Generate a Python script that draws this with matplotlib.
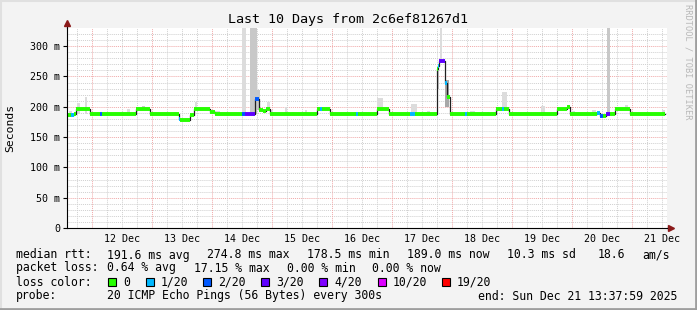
import numpy as np
import matplotlib.pyplot as plt
from matplotlib.patches import Rectangle
from matplotlib.lines import Line2D

# time in hours after Dec 11 00:00, rtt in ms
seg_start = [14.20, 15.80, 17.00, 17.92, 23.28, 27.40, 28.08, 41.92, 47.28, 58.88,
             59.40, 63.52, 65.12, 71.52, 73.40, 84.08, 85.40, 89.40, 91.12, 92.60,
             93.80, 95.40, 114.08, 115.40, 116.20, 119.40, 129.68, 130.48, 138.08, 143.12,
             151.40, 153.40, 162.08, 162.60, 163.12, 165.40, 166.08, 167.28, 173.40, 174.20,
             185.80, 188.08, 189.00, 191.12, 210.08, 214.08, 215.40, 226.08, 227.40, 228.60,
             229.80, 231.40, 233.40, 239.40]
seg_value = [187, 186, 188, 196, 188, 188, 188, 197, 188, 180,
             178.5, 187, 197, 191, 188, 188, 188, 213, 195, 193,
             196, 188, 196, 196, 196, 188, 188, 188, 196, 188,
             188, 188, 262, 267, 274.8, 240, 216, 188, 188, 188,
             196, 196, 196, 188, 196, 199.5, 188, 189, 185, 185,
             188, 188, 196, 188]
seg_loss = [0, 1, 0, 0, 0, 2, 0, 0, 0, 1,
            0, 0, 0, 0, 0, 2, 3, 2, 0, 0,
            0, 0, 0, 1, 0, 0, 1, 0, 0, 0,
            1, 0, 0, 1, 3, 1, 0, 0, 1, 0,
            0, 1, 0, 0, 0, 0, 0, 1, 2, 0,
            3, 0, 0, 0]
t_last = 253.40

# smoke: spread of the 20 pings
smoke_t0 = [15.17, 18.17, 21.27, 26.17, 38.17, 44.17, 56.97, 65.52, 73.37, 84.07,
            87.37, 90.07, 94.07, 95.37, 101.37, 104.07, 109.37, 138.07, 151.67, 158.17,
            163.37, 165.37, 162.07, 175.37, 182.07, 188.07, 203.77, 216.07, 224.07, 230.07,
            237.37, 252.07]
smoke_t1 = [16.17, 19.37, 22.17, 27.37, 39.37, 45.37, 58.17, 66.37, 75.37, 85.77,
            90.07, 91.37, 95.37, 96.57, 102.17, 104.97, 110.17, 140.57, 154.07, 159.37,
            164.27, 166.97, 162.97, 177.37, 182.97, 190.17, 205.37, 217.37, 225.77, 231.37,
            238.57, 253.37]
smoke_lo = [188, 188, 188, 188, 188, 197, 188, 197, 188, 188,
            188, 195, 196, 188, 188, 188, 188, 196, 188, 188,
            274, 200, 230, 188, 188, 196, 188, 188, 188, 188,
            196, 188]
smoke_hi = [193, 206, 216, 191, 196, 202, 191, 208, 193, 330,
            330, 227, 208, 194, 199, 192, 195, 214, 204, 193,
            330, 245, 262, 193, 191, 225, 201, 193, 194, 330,
            203, 194]
smoke_density = [1, 1, 1, 1, 1, 2, 1, 1, 1, 1,
                 2, 2, 1, 1, 1, 1, 1, 1, 1, 1,
                 1, 3, 2, 1, 1, 1, 1, 1, 1, 2,
                 1, 1]

day_labels = ['12 Dec', '13 Dec', '14 Dec', '15 Dec', '16 Dec',
              '17 Dec', '18 Dec', '19 Dec', '20 Dec', '21 Dec']

loss_names = ['0', '1/20', '2/20', '3/20', '4/20', '10/20', '19/20']
loss_colors = ['#26ff00', '#00b8ff', '#0059ff', '#5e00ff', '#7e00ff', '#dd00ff', '#ff0000']

W, H = 697, 310
mono = 'DejaVu Sans Mono'
plt.rcParams['font.family'] = mono

fig = plt.figure(figsize=(W / 100, H / 100), dpi=100, facecolor='#f3f3f3')
ax = fig.add_axes([67 / W, (H - 228) / H, 600 / W, 200 / H])
ax.set_facecolor('#ffffff')
ax.set_xlim(14.2, 254.2)
ax.set_ylim(0, 330)

# grid
for v in range(10, 330, 10):
    major = v % 50 == 0
    ax.axhline(v, color='#f0a8a8' if major else '#d0d0d0', lw=0.7,
               ls=(0, (1, 1)), zorder=1)
for h in range(18, 254, 6):
    major = h % 24 == 0
    ax.axvline(h, color='#f0a8a8' if major else '#d0d0d0', lw=0.7,
               ls=(0, (1, 1)), zorder=1)

# smoke
shades = {1: '#dcdcdc', 2: '#c8c8c8', 3: '#a8a8a8'}
t0 = np.array(smoke_t0)
t1 = np.array(smoke_t1)
lo = np.array(smoke_lo)
hi = np.array(smoke_hi)
ax.bar(t0, hi - lo, width=t1 - t0, bottom=lo, align='edge',
       color=[shades[d] for d in smoke_density], lw=0, zorder=2)

# median line
xs = seg_start + [t_last]
ys = seg_value + [seg_value[-1]]
ax.step(xs, ys, where='post', color='#202020', lw=0.9, zorder=3)
seg_end = seg_start[1:] + [t_last]
ax.hlines(seg_value, seg_start, seg_end,
          colors=[loss_colors[k] for k in seg_loss], lw=2.8, zorder=4)

# axes
for s in ['top', 'right']:
    ax.spines[s].set_visible(False)
for s in ['left', 'bottom']:
    ax.spines[s].set_color('#000000')
    ax.spines[s].set_linewidth(0.8)
    ax.spines[s].set_zorder(5)
ax.set_yticks(range(0, 301, 50))
ax.set_yticklabels(['0'] + ['%d m' % v for v in range(50, 301, 50)])
ax.set_xticks(range(36, 253, 24))
ax.set_xticklabels(day_labels)
ax.tick_params(axis='y', length=3, width=0.8, pad=2, labelsize=7.2)
ax.tick_params(axis='x', length=0, pad=4, labelsize=7.2)

# axis arrows
ax.plot([0, 0], [1, 1.025], transform=ax.transAxes, color='#000000',
        lw=0.8, clip_on=False)
ax.plot([0], [1.025], transform=ax.transAxes, marker='^', ms=4,
        color='#8b1a1a', clip_on=False)
ax.plot([1, 1.005], [0, 0], transform=ax.transAxes, color='#000000',
        lw=0.8, clip_on=False)
ax.plot([1.006], [0], transform=ax.transAxes, marker='>', ms=4,
        color='#8b1a1a', clip_on=False)

fig.text(348 / W, 1 - 19 / H, 'Last 10 Days from 2c6ef81267d1',
         ha='center', va='center', fontsize=9.6)
fig.text(10 / W, 1 - 128 / H, 'Seconds', rotation=90,
         ha='center', va='center', fontsize=8.2)
fig.text(688 / W, 1 - 62 / H, 'RRDTOOL / TOBI OETIKER', rotation=270,
         ha='center', va='center', fontsize=6.2, color='#b8b8b8')


def txt(x, y, s):
    fig.text(x / W, 1 - y / H, s, ha='left', va='center', fontsize=8.3)


y1, y2, y3, y4 = 255, 268, 282, 296
txt(16, y1, 'median rtt:')
txt(107, y1, '191.6 ms avg')
txt(207, y1, '274.8 ms max')
txt(307, y1, '178.5 ms min')
txt(407, y1, '189.0 ms now')
txt(507, y1, '10.3 ms sd')
txt(598, y1, '18.6')
txt(642, y1, 'am/s')

txt(16, y2, 'packet loss:')
txt(107, y2, '0.64 % avg')
txt(194, y2, '17.15 % max')
txt(287, y2, '0.00 % min')
txt(372, y2, '0.00 % now')

txt(16, y3, 'loss color:')
box_x = [108, 146, 203, 261, 319, 378, 442]
for bx, name, col in zip(box_x, loss_names, loss_colors):
    fig.patches.append(Rectangle((bx / W, 1 - (y3 + 4) / H), 8 / W, 8 / H,
                                 transform=fig.transFigure, facecolor=col,
                                 edgecolor='#000000', lw=0.8))
    txt(bx + 15, y3, name)

txt(16, y4, 'probe:')
txt(107, y4, '20 ICMP Echo Pings (56 Bytes) every 300s')
txt(478, y4, 'end: Sun Dec 21 13:37:59 2025')

# 3d frame
fig.lines.append(Line2D([0, 1], [1 - 1 / H, 1 - 1 / H], transform=fig.transFigure,
                        color='#e0e0e0', lw=1.5))
fig.lines.append(Line2D([1 / W, 1 / W], [0, 1], transform=fig.transFigure,
                        color='#e0e0e0', lw=1.5))
fig.lines.append(Line2D([0, 1], [1.5 / H, 1.5 / H], transform=fig.transFigure,
                        color='#9e9e9e', lw=2))
fig.lines.append(Line2D([1 - 1.5 / W, 1 - 1.5 / W], [0, 1], transform=fig.transFigure,
                        color='#9e9e9e', lw=2))

fig.savefig('out.png', dpi=100, facecolor=fig.get_facecolor())
